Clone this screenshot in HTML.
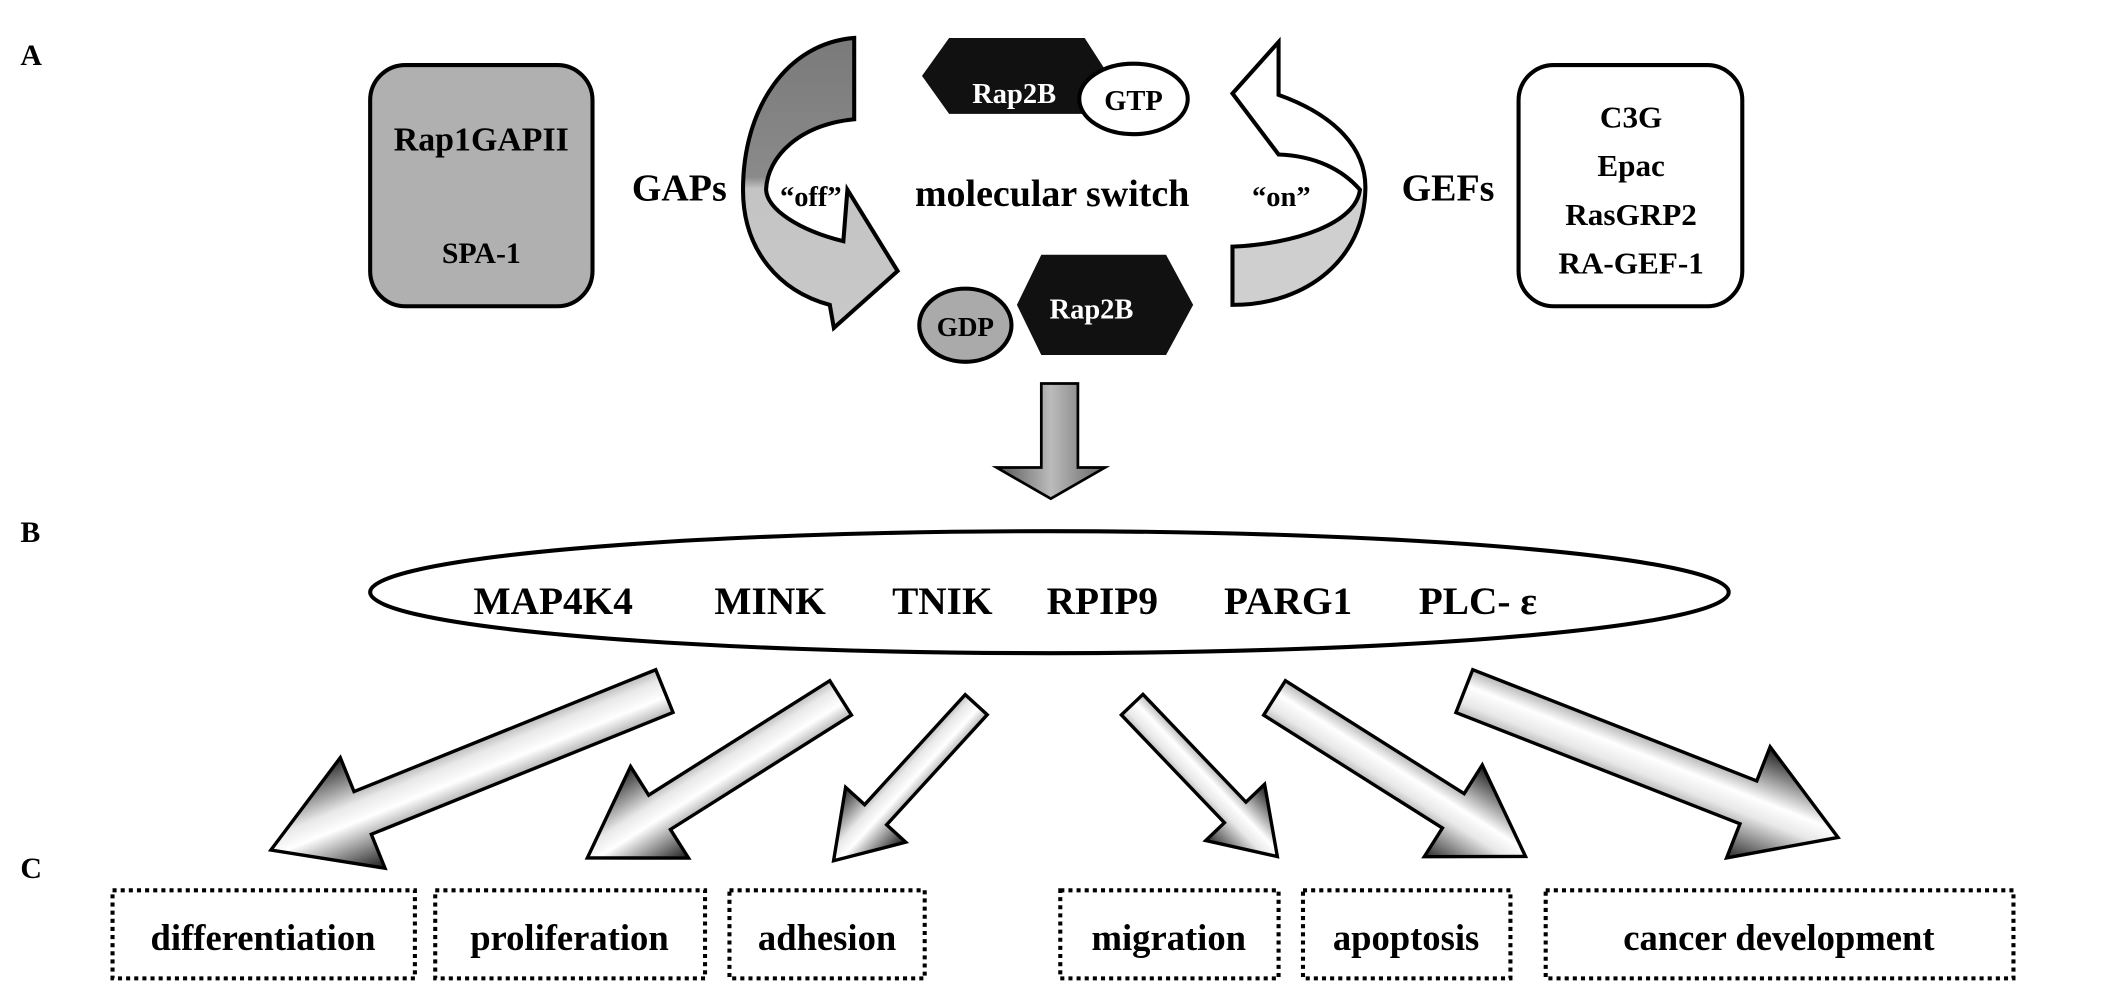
<!DOCTYPE html>
<html><head><meta charset="utf-8"><style>
html,body{margin:0;padding:0;background:#fff;}
svg{display:block;}
text{font-family:"Liberation Serif",serif;font-weight:bold;}
</style></head><body>
<svg width="2126" height="996" viewBox="0 0 1568 735" preserveAspectRatio="none" xmlns="http://www.w3.org/2000/svg">
<defs>
<linearGradient id="ag" x1="0" y1="0" x2="0" y2="1">
<stop offset="0" stop-color="#1a1a1a"/><stop offset="0.45" stop-color="#fff"/><stop offset="0.6" stop-color="#e8e8e8"/><stop offset="1" stop-color="#2a2a2a"/>
</linearGradient>
<linearGradient id="dg" x1="0" y1="0" x2="1" y2="0">
<stop offset="0" stop-color="#555"/><stop offset="0.5" stop-color="#bbb"/><stop offset="1" stop-color="#666"/>
</linearGradient>
<linearGradient id="offg" x1="0" y1="0" x2="0" y2="1">
<stop offset="0" stop-color="#7a7a7a"/><stop offset="0.48" stop-color="#8a8a8a"/><stop offset="0.52" stop-color="#c4c4c4"/><stop offset="1" stop-color="#c8c8c8"/>
</linearGradient>
<linearGradient id="ong" x1="0" y1="0" x2="0" y2="1">
<stop offset="0" stop-color="#fff"/><stop offset="0.55" stop-color="#fff"/><stop offset="0.6" stop-color="#cfcfcf"/><stop offset="1" stop-color="#cfcfcf"/>
</linearGradient>
</defs>

<text x="15" y="48" font-size="22">A</text>
<text x="15" y="400" font-size="22">B</text>
<text x="15" y="648" font-size="22">C</text>

<rect x="273" y="48" width="164" height="178" rx="26" fill="#b0b0b0" stroke="#000" stroke-width="3"/>
<text x="355" y="111" font-size="25" text-anchor="middle">Rap1GAPII</text>
<text x="355" y="194" font-size="22" text-anchor="middle">SPA-1</text>
<text x="501" y="148" font-size="28" text-anchor="middle">GAPs</text>

<rect x="1120" y="48" width="165" height="178" rx="26" fill="#fff" stroke="#000" stroke-width="3"/>
<text x="1203" y="94" font-size="23" text-anchor="middle">C3G</text>
<text x="1203" y="130" font-size="23" text-anchor="middle">Epac</text>
<text x="1203" y="166" font-size="23" text-anchor="middle">RasGRP2</text>
<text x="1203" y="202" font-size="23" text-anchor="middle">RA-GEF-1</text>
<text x="1068" y="148" font-size="28" text-anchor="middle">GEFs</text>

<path d="M630,28 C580,32 548,80 548,140 C548,185 575,215 612,225 L615,242 L662,200 L625,140 L622,178 C590,170 566,155 565,140 C566,115 590,92 630,88 Z" fill="url(#offg)" stroke="#000" stroke-width="3"/>
<path d="M943,31 L943,70 C985,85 1008,110 1007,140 C1006,190 965,225 909,225 L909,182 C955,180 1000,165 1003,140 C990,125 970,115 943,114 L909,69 Z" fill="url(#ong)" stroke="#000" stroke-width="3"/>

<text x="598" y="152" font-size="21" text-anchor="middle">“off”</text>
<text x="945" y="152" font-size="21" text-anchor="middle">“on”</text>
<text x="776" y="152" font-size="28" text-anchor="middle">molecular switch</text>

<polygon points="680,56 700,28 800,28 818,56 800,84 700,84" fill="#111"/>
<text x="748" y="76" font-size="21" fill="#fff" text-anchor="middle">Rap2B</text>
<ellipse cx="836" cy="73" rx="40" ry="26" fill="#fff" stroke="#000" stroke-width="3"/>
<text x="836" y="81" font-size="21" text-anchor="middle">GTP</text>

<polygon points="750,225 768,188 860,188 880,225 860,262 768,262" fill="#111"/>
<text x="805" y="235" font-size="21" fill="#fff" text-anchor="middle">Rap2B</text>
<ellipse cx="712" cy="240" rx="34" ry="27" fill="#aaa" stroke="#000" stroke-width="3"/>
<text x="712" y="248" font-size="20" text-anchor="middle">GDP</text>

<path d="M768,283 L795,283 L795,345 L815,345 L775,368 L735,345 L768,345 Z" fill="url(#dg)" stroke="#000" stroke-width="2"/>

<ellipse cx="774" cy="437" rx="501" ry="45" fill="#fff" stroke="#000" stroke-width="3"/>
<g font-size="29" text-anchor="middle">
<text x="408" y="453">MAP4K4</text>
<text x="568" y="453">MINK</text>
<text x="695" y="453">TNIK</text>
<text x="813" y="453">RPIP9</text>
<text x="950" y="453">PARG1</text>
<text x="1090" y="453">PLC- ε</text>
</g>

<g stroke="#000" stroke-width="2.5" fill="url(#ag)">
<path transform="translate(490,510) rotate(158)" d="M0,-17 L240,-17 L240,-44 L313,0 L240,44 L240,17 L0,17 Z"/>
<path transform="translate(620,515) rotate(147.7)" d="M0,-15 L158,-15 L158,-40 L221,0 L158,40 L158,15 L0,15 Z"/>
<path transform="translate(720,520) rotate(132.4)" d="M0,-11 L110,-11 L110,-30 L156,0 L110,30 L110,11 L0,11 Z"/>
<path transform="translate(835,520) rotate(46.3)" d="M0,-11 L110,-11 L110,-30 L155,0 L110,30 L110,11 L0,11 Z"/>
<path transform="translate(940,515) rotate(32.3)" d="M0,-15 L156,-15 L156,-40 L219,0 L156,40 L156,15 L0,15 Z"/>
<path transform="translate(1080,510) rotate(21.4)" d="M0,-17 L225,-17 L225,-44 L296,0 L225,44 L225,17 L0,17 Z"/>
</g>

<g fill="none" stroke="#000" stroke-width="3" stroke-dasharray="3,3">
<rect x="83" y="657" width="223" height="65"/>
<rect x="321" y="657" width="199" height="65"/>
<rect x="538" y="657" width="144" height="65"/>
<rect x="782" y="657" width="161" height="65"/>
<rect x="961" y="657" width="153" height="65"/>
<rect x="1140" y="657" width="345" height="65"/>
</g>
<g font-size="27" text-anchor="middle">
<text x="194" y="701">differentiation</text>
<text x="420" y="701">proliferation</text>
<text x="610" y="701">adhesion</text>
<text x="862" y="701">migration</text>
<text x="1037" y="701">apoptosis</text>
<text x="1312" y="701">cancer development</text>
</g>
</svg>
</body></html>
